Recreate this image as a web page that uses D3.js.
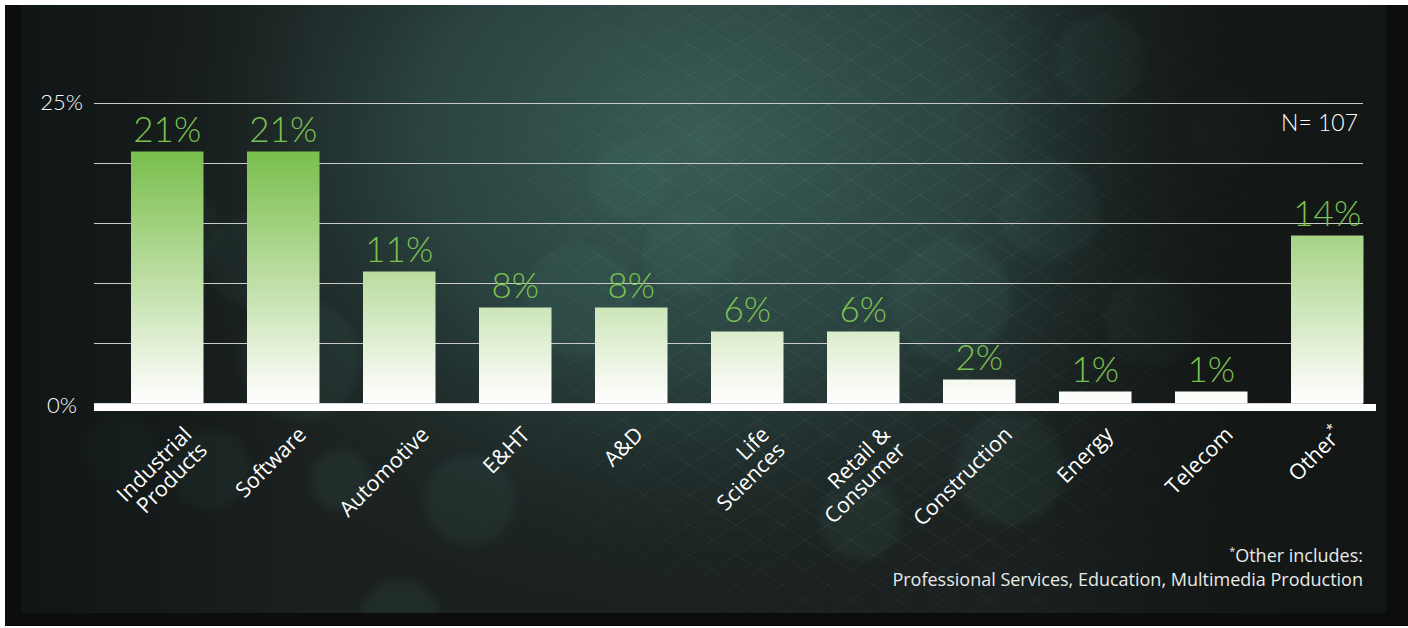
<!DOCTYPE html>
<html>
<head>
<meta charset="utf-8">
<script src="https://cdn.jsdelivr.net/npm/d3@7"></script>
<style>
  html, body { margin: 0; padding: 0; background: #ffffff; }
  svg { display: block; }
</style>
</head>
<body>
<svg id="chart" width="1408" height="628"></svg>
<script>
// Industry breakdown of respondents
const categories = ["Industrial\nProducts", "Software", "Automotive", "E&HT", "A&D",
                    "Life\nSciences", "Retail &\nConsumer", "Construction", "Energy", "Telecom", "Other*"];
const values = [21, 21, 11, 8, 8, 6, 6, 2, 1, 1, 14];
const gridTicks = [0, 5, 10, 15, 20, 25];
const axisLabels = [0, 25];
const sampleNote = "N= 107";
const footnoteLines = ["*Other includes:", "Professional Services, Education, Multimedia Production"];

const svg = d3.select("#chart");
const W = 1408, H = 628;
const defs = svg.append("defs");

// ---------- backdrop ----------
const glow = defs.append("radialGradient").attr("id", "glow")
  .attr("gradientUnits", "userSpaceOnUse").attr("cx", 700).attr("cy", 140).attr("r", 620)
  .attr("gradientTransform", "translate(700 140) scale(1 0.8) translate(-700 -140)");
glow.append("stop").attr("offset", 0).attr("stop-color", "#3a5d56").attr("stop-opacity", 1);
glow.append("stop").attr("offset", 0.45).attr("stop-color", "#2d4946").attr("stop-opacity", 0.85);
glow.append("stop").attr("offset", 1).attr("stop-color", "#1a2120").attr("stop-opacity", 0);

const sideShade = defs.append("linearGradient").attr("id", "sideShade")
  .attr("x1", 0).attr("x2", 1).attr("y1", 0).attr("y2", 0);
sideShade.append("stop").attr("offset", 0).attr("stop-color", "#0e1413").attr("stop-opacity", 0.85);
sideShade.append("stop").attr("offset", 0.22).attr("stop-color", "#0e1413").attr("stop-opacity", 0);
sideShade.append("stop").attr("offset", 0.72).attr("stop-color", "#0e1413").attr("stop-opacity", 0);
sideShade.append("stop").attr("offset", 0.88).attr("stop-color", "#111514").attr("stop-opacity", 0.75);
sideShade.append("stop").attr("offset", 1).attr("stop-color", "#111514").attr("stop-opacity", 0.9);

const lattice = defs.append("pattern").attr("id", "lattice")
  .attr("patternUnits", "userSpaceOnUse").attr("width", 46).attr("height", 30);
lattice.append("path").attr("d", "M0,15 L23,0 L46,15 L23,30 Z")
  .attr("fill", "none").attr("stroke", "#a6d2c5").attr("stroke-opacity", 0.09).attr("stroke-width", 1);

const latFade = defs.append("radialGradient").attr("id", "latFade")
  .attr("gradientUnits", "userSpaceOnUse").attr("cx", 900).attr("cy", 260).attr("r", 480);
latFade.append("stop").attr("offset", 0).attr("stop-color", "#fff").attr("stop-opacity", 1);
latFade.append("stop").attr("offset", 0.6).attr("stop-color", "#fff").attr("stop-opacity", 0.8);
latFade.append("stop").attr("offset", 1).attr("stop-color", "#fff").attr("stop-opacity", 0);
defs.append("mask").attr("id", "latMask")
  .append("rect").attr("x", 0).attr("y", 0).attr("width", W).attr("height", H).attr("fill", "url(#latFade)");

defs.append("filter").attr("id", "soft").attr("x", "-50%").attr("y", "-50%").attr("width", "200%").attr("height", "200%")
  .append("feGaussianBlur").attr("stdDeviation", 4);

// outer frame and inner panel
svg.append("rect").attr("x", 5).attr("y", 5).attr("width", W - 5).attr("height", H - 7).attr("fill", "#0b0e0d");
const panel = { x: 21, y: 5, w: 1365, h: 608 };
defs.append("clipPath").attr("id", "panelClip")
  .append("rect").attr("x", panel.x).attr("y", panel.y).attr("width", panel.w).attr("height", panel.h);
const bg = svg.append("g").attr("clip-path", "url(#panelClip)");
bg.append("rect").attr("x", panel.x).attr("y", panel.y).attr("width", panel.w).attr("height", panel.h).attr("fill", "#1b2120");
bg.append("rect").attr("x", panel.x).attr("y", panel.y).attr("width", panel.w).attr("height", panel.h).attr("fill", "url(#glow)");

// soft out-of-focus discs
const discs = [[180, 230, 40], [250, 260, 45], [300, 360, 60], [120, 450, 35], [210, 470, 40], [340, 480, 30],
               [580, 300, 55], [690, 250, 45], [950, 300, 60], [1050, 210, 50], [1100, 60, 45], [1230, 130, 40],
               [1010, 470, 55], [470, 500, 45], [860, 520, 40], [400, 620, 40], [630, 180, 40], [1150, 320, 45]];
bg.append("g").attr("filter", "url(#soft)").selectAll("circle").data(discs).join("circle")
  .attr("cx", d => d[0]).attr("cy", d => d[1]).attr("r", d => d[2])
  .attr("fill", "#4a7a70").attr("fill-opacity", 0.12);

bg.append("rect").attr("x", panel.x).attr("y", panel.y).attr("width", panel.w).attr("height", panel.h)
  .attr("fill", "url(#lattice)").attr("mask", "url(#latMask)");
bg.append("rect").attr("x", panel.x).attr("y", panel.y).attr("width", panel.w).attr("height", panel.h).attr("fill", "url(#sideShade)");

// ---------- scales ----------
const x = d3.scaleBand().domain(categories).range([109.25, 1385.25])
  .paddingInner(0.375).paddingOuter(0.1875);
const y = d3.scaleLinear().domain([0, 25]).range([403.5, 103.5]);
const gridX0 = 94, gridX1 = 1363;

// bar fill: green at the tallest value fading to white at zero
const barGrad = defs.append("linearGradient").attr("id", "barGrad")
  .attr("gradientUnits", "userSpaceOnUse")
  .attr("x1", 0).attr("x2", 0).attr("y1", y(d3.max(values))).attr("y2", y(0));
barGrad.append("stop").attr("offset", 0).attr("stop-color", "#79be4c");
barGrad.append("stop").attr("offset", 0.5).attr("stop-color", "#bcdea2");
barGrad.append("stop").attr("offset", 0.9).attr("stop-color", "#f4f8ee");
barGrad.append("stop").attr("offset", 1).attr("stop-color", "#ffffff");

// gridlines
svg.append("g").selectAll("line").data(gridTicks.filter(t => t > 0)).join("line")
  .attr("x1", gridX0).attr("x2", gridX1)
  .attr("y1", d => y(d)).attr("y2", d => y(d))
  .attr("stroke", "#c8cbc8").attr("stroke-width", 1.2);
svg.append("line").attr("x1", gridX0).attr("x2", gridX1).attr("y1", y(0)).attr("y2", y(0))
  .attr("stroke", "#d9d8e6").attr("stroke-width", 1.2);

// bars
svg.append("g").selectAll("rect").data(values).join("rect")
  .attr("x", (d, i) => x(categories[i]))
  .attr("width", x.bandwidth())
  .attr("y", d => y(d))
  .attr("height", d => y(0) - y(d) - 0.5)
  .attr("fill", "url(#barGrad)");

// thick white baseline
svg.append("rect").attr("x", gridX0).attr("y", y(0) + 0.5).attr("width", 1376 - gridX0).attr("height", 7).attr("fill", "#ffffff");

// value labels
const numFont = "Lato, 'Open Sans', sans-serif";
svg.append("g").selectAll("text").data(values).join("text")
  .attr("x", (d, i) => x(categories[i]) + x.bandwidth() / 2)
  .attr("y", d => y(d) - 10)
  .attr("text-anchor", "middle")
  .attr("font-family", numFont).attr("font-weight", 300).attr("font-size", 35)
  .attr("fill", "#7cc14f")
  .text(d => d + "%");

// y axis labels
svg.append("g").selectAll("text").data(axisLabels).join("text")
  .attr("x", d => d === 0 ? 77 : 83)
  .attr("y", d => d === 0 ? y(d) + 9.5 : y(d) + 6)
  .attr("text-anchor", "end")
  .attr("font-family", numFont).attr("font-weight", 300).attr("font-size", 22)
  .attr("fill", "#ffffff")
  .text(d => d + "%");

// sample size
svg.append("text").attr("x", 1358).attr("y", 131).attr("text-anchor", "end")
  .attr("font-family", numFont).attr("font-weight", 300).attr("font-size", 23)
  .attr("fill", "#ffffff").text(sampleNote);

// category labels, rotated 45 degrees, lines right-aligned
const labFont = "'Open Sans', 'Noto Sans', sans-serif";
const labG = svg.append("g").attr("font-family", labFont).attr("font-size", 21.5).attr("fill", "#ffffff");
categories.forEach((c, i) => {
  const g = labG.append("g");
  const lines = c.split("\n");
  const t = g.append("text").attr("text-anchor", "end");
  lines.forEach((ln, j) => {
    const ts = t.append("tspan").attr("x", 0).attr("y", j * 22);
    if (ln.endsWith("*")) {
      ts.text(ln.slice(0, -1));
      t.append("tspan").attr("font-size", 13).attr("dy", -10).text("*");
    } else {
      ts.text(ln);
    }
  });
  const L = d3.max(t.selectAll("tspan").nodes(), n => n.getComputedTextLength());
  const cx = x(c) + x.bandwidth() / 2;
  g.attr("transform", `translate(${cx + L * 0.25 + 2},${436}) rotate(-45)`);
});

// footnote
const foot = svg.append("g").attr("font-family", labFont).attr("font-size", 18).attr("fill", "#e8eae9")
  .attr("text-anchor", "end");
const f1 = foot.append("text").attr("x", 1363).attr("y", 562);
f1.append("tspan").attr("font-size", 11).attr("dy", -7).text("*");
f1.append("tspan").attr("dy", 7).text(footnoteLines[0].slice(1));
foot.append("text").attr("x", 1363).attr("y", 586).text(footnoteLines[1]);
</script>
</body>
</html>
